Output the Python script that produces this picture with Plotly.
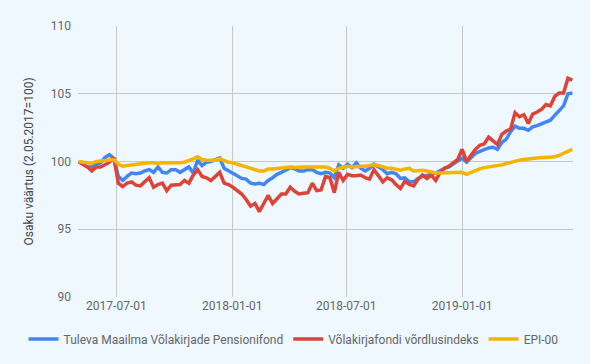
import plotly.graph_objects as go
import pandas as pd

start_date = "2017-05-02"
n_weeks = 113
dates = pd.date_range(start_date, periods=n_weeks, freq="7D")

tuleva = [100.0, 99.8, 99.6, 99.6, 99.8, 99.9, 100.3, 100.5, 100.2, 98.9,
          98.6, 98.9, 99.15, 99.1, 99.15, 99.3, 99.4, 99.2, 99.6, 99.2,
          99.15, 99.4, 99.4, 99.2, 99.4, 99.6, 99.15, 100.1, 99.7, 99.95,
          100.0, 100.1, 100.25, 99.5, 99.3, 99.1, 98.9, 98.75, 98.7, 98.4,
          98.35, 98.4, 98.3, 98.6, 98.8, 99.05, 99.2, 99.4, 99.55, 99.45,
          99.3, 99.3, 99.4, 99.4, 99.2, 99.1, 99.2, 99.15, 98.8, 99.75,
          99.5, 99.8, 99.55, 99.9, 99.5, 99.3, 99.5, 99.8, 99.6, 99.4,
          99.1, 99.2, 99.1, 98.75, 98.8, 98.5, 98.5, 98.75, 98.9, 98.95,
          99.05, 99.15, 99.35, 99.5, 99.6, 99.8, 100.0, 100.25, 99.95, 100.3,
          100.6, 100.75, 100.9, 101.0, 101.05, 100.9, 101.4, 101.65, 102.2, 102.6,
          102.45, 102.45, 102.3, 102.55, 102.65, 102.8, 102.9, 103.05, 103.4, 103.8,
          104.1, 105.0, 105.05]

index = [100.0, 99.8, 99.6, 99.3, 99.6, 99.6, 99.75, 99.95, 100.3, 98.4,
         98.15, 98.4, 98.5, 98.25, 98.2, 98.5, 98.8, 98.1, 98.3, 98.4,
         97.85, 98.25, 98.25, 98.3, 98.6, 98.4, 99.0, 99.4, 98.9, 98.8,
         98.6, 98.9, 99.2, 98.4, 98.3, 98.1, 97.85, 97.6, 97.2, 96.7,
         96.9, 96.3, 96.9, 97.5, 96.9, 97.3, 97.6, 97.6, 98.1, 97.8,
         97.6, 97.65, 97.7, 98.4, 97.85, 97.9, 98.9, 98.8, 97.7, 99.2,
         98.6, 99.05, 98.95, 98.95, 99.0, 98.8, 98.7, 99.4, 99.0, 98.5,
         98.8, 98.65, 98.3, 98.0, 98.55, 98.3, 98.2, 98.7, 99.0, 98.75,
         99.0, 98.6, 99.2, 99.5, 99.65, 99.9, 100.15, 100.9, 100.0, 100.45,
         100.9, 101.2, 101.3, 101.8, 101.55, 101.25, 102.0, 102.25, 102.4, 103.6,
         103.3, 103.45, 102.8, 103.5, 103.65, 103.85, 104.2, 104.1, 104.8, 105.05,
         105.05, 106.15, 106.0]

epi = [100.0, 99.95, 99.9, 99.85, 100.0, 100.05, 100.1, 100.1, 100.15, 99.8,
       99.65, 99.7, 99.75, 99.8, 99.85, 99.85, 99.9, 99.9, 99.85, 99.9,
       99.9, 99.85, 99.9, 99.9, 99.95, 100.05, 100.2, 100.35, 100.15, 100.1,
       100.1, 100.1, 100.2, 100.05, 99.95, 99.9, 99.8, 99.7, 99.6, 99.5,
       99.4, 99.3, 99.3, 99.45, 99.45, 99.5, 99.55, 99.55, 99.6, 99.55,
       99.6, 99.6, 99.6, 99.6, 99.6, 99.6, 99.6, 99.5, 99.3, 99.5,
       99.6, 99.65, 99.6, 99.65, 99.65, 99.65, 99.7, 99.75, 99.7, 99.6,
       99.5, 99.5, 99.45, 99.35, 99.45, 99.5, 99.3, 99.35, 99.35, 99.3,
       99.2, 99.15, 99.15, 99.15, 99.15, 99.2, 99.2, 99.2, 99.05, 99.2,
       99.35, 99.45, 99.55, 99.6, 99.6, 99.65, 99.75, 99.85, 99.95, 100.05,
       100.1, 100.15, 100.2, 100.2, 100.3, 100.3, 100.3, 100.3, 100.35, 100.45,
       100.6, 100.8, 100.9]

series_names = ["Tuleva Maailma Võlakirjade Pensionifond",
                "Võlakirjafondi võrdlusindeks", "EPI-00"]
series_colors = ["#4285F4", "#DB4437", "#F4B400"]

x_tick_vals = ["2017-07-01", "2018-01-01", "2018-07-01", "2019-01-01"]
x_tick_text = ["2017-07-01", "2018-01-01", "2018-07-01", "2019-01-01"]
y_tick_vals = [90, 95, 100, 105, 110]

fig = go.Figure()
for name, vals, col in zip(series_names, [tuleva, index, epi], series_colors):
    fig.add_trace(go.Scatter(x=dates, y=vals, mode="lines", name=name,
                             line=dict(color=col, width=3.5)))

bg = "#eff8fe"
fig.update_layout(
    width=590, height=364,
    margin=dict(l=78, r=17, t=26, b=67, autoexpand=False),
    paper_bgcolor=bg, plot_bgcolor=bg,
    font=dict(family="Roboto", size=12, color="#666666"),
    showlegend=True,
    legend=dict(orientation="h", x=-0.11, xanchor="left", y=-0.155, yanchor="middle",
                font=dict(size=12, color="#666666"), itemwidth=30,
                tracegroupgap=0, bgcolor="rgba(0,0,0,0)"),
    xaxis=dict(
        range=["2017-05-01", "2019-06-26"], automargin=False,
        tickvals=x_tick_vals, ticktext=x_tick_text,
        showgrid=True, gridcolor="#c4c8cc", gridwidth=1,
        zeroline=False, showline=False, ticks="",
        tickfont=dict(size=12, color="#666666"),
    ),
    yaxis=dict(
        range=[90, 110], tickvals=y_tick_vals, automargin=False,
        showgrid=True, gridcolor="#c4c8cc", gridwidth=1,
        zeroline=False, showline=False, ticks="", ticklabelstandoff=6,
        tickfont=dict(size=12, color="#666666"),
        title=dict(text="Osaku väärtus (2.05.2017=100)", font=dict(size=12, color="#444444"),
                   standoff=14),
    ),
)

fig.write_html("out.html", config={"displayModeBar": False},
               post_script="document.body.style.margin='0px';")
